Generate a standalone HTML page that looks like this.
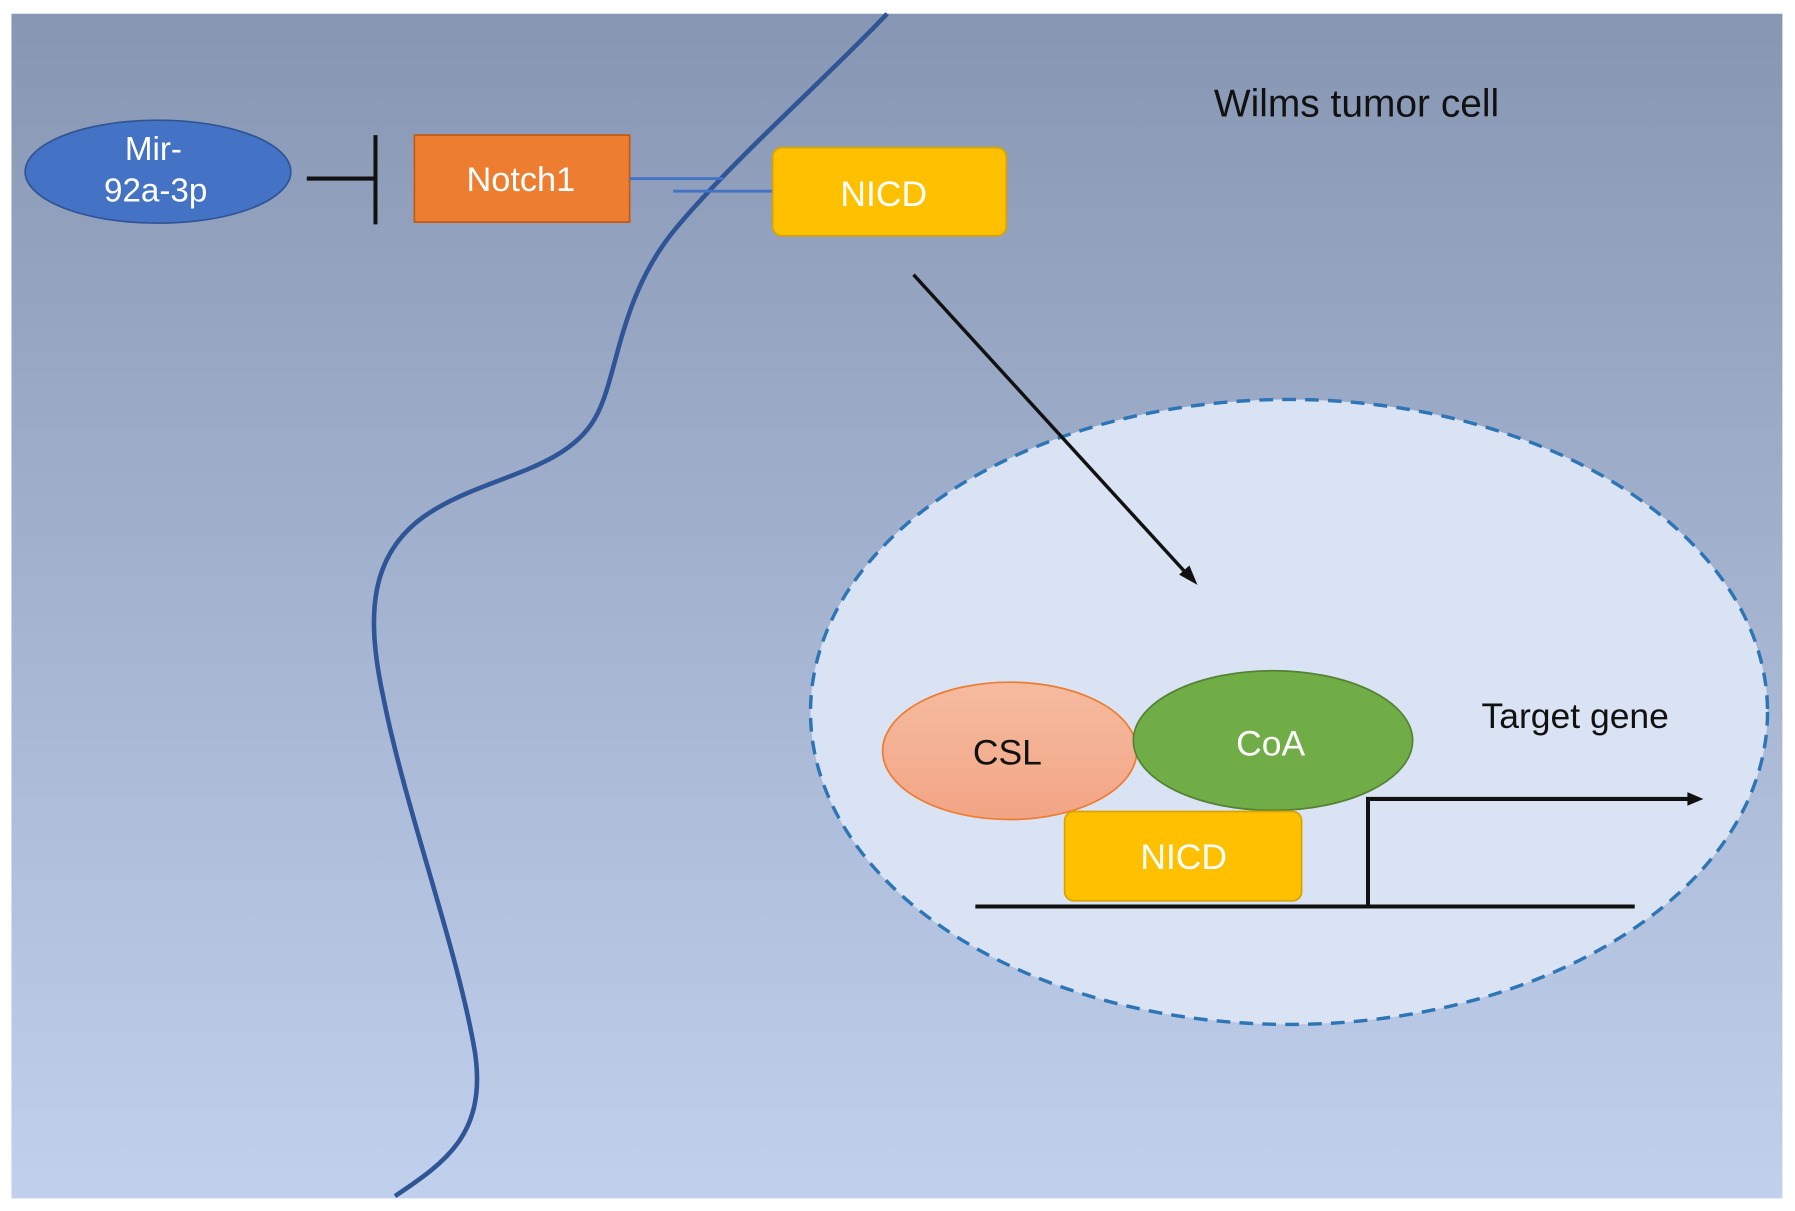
<!DOCTYPE html>
<html><head><meta charset="utf-8"><style>html,body{margin:0;padding:0;background:#fff}svg{display:block}</style></head>
<body>
<svg width="1795" height="1211" viewBox="0 0 1568 1058" preserveAspectRatio="none" xmlns="http://www.w3.org/2000/svg" font-family="Liberation Sans, sans-serif">
<defs>
<linearGradient id="bg" x1="0" y1="0" x2="0" y2="1"><stop offset="0" stop-color="#8797b3"/><stop offset="1" stop-color="#c1d1ed"/></linearGradient>
<linearGradient id="csl" x1="0" y1="0" x2="0" y2="1"><stop offset="0" stop-color="#f6bba0"/><stop offset="1" stop-color="#f2a585"/></linearGradient>
</defs>
<rect x="10" y="12" width="1547" height="1035" fill="url(#bg)"/>
<path d="M775 12 C720 70 640 140 590 200 C540 260 540 330 520 365 C495 410 430 415 380 445 C320 480 320 540 335 610 C355 710 400 830 415 920 C425 990 390 1015 345 1045" fill="none" stroke="#2f5597" stroke-width="4"/>
<text x="1185" y="102" font-size="34" text-anchor="middle" fill="#111">Wilms tumor cell</text>
<ellipse cx="138" cy="150" rx="116" ry="45" fill="#4472c4" stroke="#2f5597" stroke-width="1.5"/>
<text x="134" y="140" font-size="29" text-anchor="middle" fill="#fff">Mir-</text>
<text x="136" y="176" font-size="29" text-anchor="middle" fill="#fff">92a-3p</text>
<line x1="268" y1="156" x2="328" y2="156" stroke="#111" stroke-width="3.5"/>
<line x1="328" y1="118" x2="328" y2="196" stroke="#111" stroke-width="3.5"/>
<rect x="362" y="118" width="188" height="76" fill="#ed7d31" stroke="#c55a11" stroke-width="1.5"/>
<text x="455" y="167" font-size="30" text-anchor="middle" fill="#fff">Notch1</text>
<line x1="550" y1="156" x2="632" y2="156" stroke="#4472c4" stroke-width="2.5"/>
<line x1="588" y1="167" x2="676" y2="167" stroke="#4472c4" stroke-width="2.5"/>
<rect x="675" y="129" width="204" height="77" rx="8" fill="#ffc000" stroke="#d9a300" stroke-width="1.5"/>
<text x="772" y="180" font-size="31" text-anchor="middle" fill="#fff">NICD</text>
<ellipse cx="1126" cy="622" rx="418" ry="273" fill="#dae3f3" stroke="#2e75b6" stroke-width="3" stroke-dasharray="12,8"/>
<line x1="798" y1="240" x2="1040" y2="505" stroke="#111" stroke-width="3"/>
<polygon points="1046,511 1030,502 1039,494" fill="#111"/>
<ellipse cx="882" cy="656" rx="111" ry="60" fill="url(#csl)" stroke="#ed7d31" stroke-width="1.5"/>
<text x="880" y="668" font-size="31" text-anchor="middle" fill="#111">CSL</text>
<ellipse cx="1112" cy="647" rx="122" ry="61" fill="#70ad47" stroke="#548235" stroke-width="1.5"/>
<text x="1110" y="660" font-size="31" text-anchor="middle" fill="#fff">CoA</text>
<rect x="930" y="709" width="207" height="78" rx="8" fill="#ffc000" stroke="#d9a300" stroke-width="1.5"/>
<text x="1034" y="759" font-size="31" text-anchor="middle" fill="#fff">NICD</text>
<line x1="852" y1="792" x2="1428" y2="792" stroke="#111" stroke-width="3.5"/>
<polyline points="1195,792 1195,698 1478,698" fill="none" stroke="#111" stroke-width="3.5"/>
<polygon points="1488,698 1474,692 1474,704" fill="#111"/>
<text x="1376" y="636" font-size="31" text-anchor="middle" fill="#111">Target gene</text>
</svg>
</body></html>
